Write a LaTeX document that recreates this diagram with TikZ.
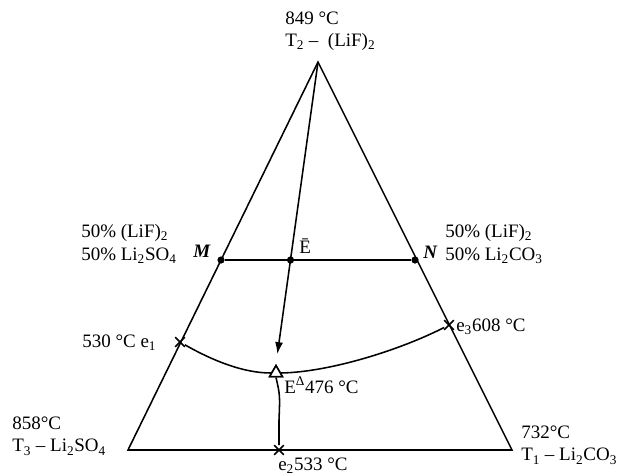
\documentclass[tikz,border=0pt]{standalone}
\usepackage{fontspec}
\setmainfont{Liberation Serif}
\usepackage{tikz}
\usetikzlibrary{arrows.meta, shapes.geometric, shapes.misc}
\tikzset{side/.style = {line width = 1.1pt}}
\tikzset{dot/.style = {shape = circle, fill, inner sep = 0pt, minimum size = 0.18cm}}
\tikzset{emark/.style = {shape = cross out, draw, line width = 1.2pt, inner sep = 0pt, minimum size = 0.2cm}}
\tikzset{eut/.style = {shape = regular polygon, regular polygon sides = 3, draw, fill = white, line width = 1.1pt, inner sep = 0pt, minimum size = 0.37cm}}
\tikzset{lbl/.style = {inner sep = 0pt, font = \fontsize{13.5}{16}\selectfont}}

\begin{document}
\begin{tikzpicture}[x = 0.025cm, y = -0.025cm]
				\useasboundingbox (0, 0) rectangle (617, 475);

				\coordinate (t2) at (318, 62);
				\coordinate (t3) at (128, 450);
				\coordinate (t1) at (512, 450);

				\node[dot] (m) at (221, 260) {};
				\node[dot] (n) at (415, 260) {};
				\node[dot] (ebar) at (290.5, 260) {};
				\node[eut] (e) at (276, 373) {};
				\node[emark] (e1) at (180, 342) {};
				\node[emark] (e3) at (449, 325) {};
				\node[emark] (e2) at (279, 450) {};

				\draw[side] (t2) -- (t3) -- (t1) -- cycle;
				\draw[side] (m) -- (n);
				\draw[side, -{Latex[length = 3mm, width = 2mm]}, shorten > = 0.25cm] (t2) -- (e.north);
				\draw[side] (e1) .. controls (215, 362) and (245, 373) .. (e.west);
				\draw[side] (e.east) .. controls (330, 372) and (400, 350) .. (e3);
				\draw[side] (e.south) .. controls (280, 395) .. (279, 420) -- (e2);
				\node[eut] at (e) {};

				\node[lbl, anchor = west, align = left] (top) at (285, 31) {849 °C\\T\textsubscript{2} –\ \ (LiF)\textsubscript{2}};
				\node[lbl, anchor = west, align = left] (lmix) at (81, 244) {50\% (LiF)\textsubscript{2}\\50\% Li\textsubscript{2}SO\textsubscript{4}};
				\node[lbl, anchor = west, align = left] (rmix) at (445, 244) {50\% (LiF)\textsubscript{2}\\50\% Li\textsubscript{2}CO\textsubscript{3}};
				\node[lbl, anchor = base west] (mlab) at (193, 257) {\textbf{\textit{M}}};
				\node[lbl, anchor = base west] (nlab) at (423, 258) {\textbf{\textit{N}}};
				\node[lbl, anchor = base west] (eblab) at (299, 253) {Ē};
				\node[lbl, anchor = base west] (e1lab) at (82, 347) {530 °C e\textsubscript{1}};
				\node[lbl, anchor = base west] (e3lab) at (456, 331) {e\textsubscript{3}608 °C};
				\node[lbl, anchor = base west] (elab) at (284, 393) {E\textsuperscript{Δ}476 °C};
				\node[lbl, anchor = base west] (e2lab) at (278, 470) {e\textsubscript{2}533 °C};
				\node[lbl, anchor = west, align = left] (t3lab) at (12, 436) {858°C\\T\textsubscript{3} – Li\textsubscript{2}SO\textsubscript{4}};
				\node[lbl, anchor = west, align = left] (t1lab) at (521, 445) {732°C\\T\textsubscript{1} – Li\textsubscript{2}CO\textsubscript{3}};
			\end{tikzpicture}
\end{document}
